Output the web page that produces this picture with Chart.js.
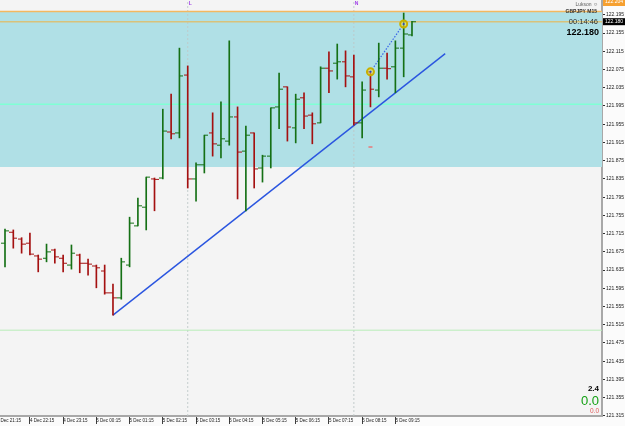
<!DOCTYPE html>
<html>
<head>
<meta charset="utf-8">
<script src="https://cdn.jsdelivr.net/npm/chart.js@4.4.1/dist/chart.umd.min.js"></script>
<style>
html, body { margin: 0; padding: 0; background: #fbfbfb; }
#wrap { width: 625px; height: 426px; }
</style>
</head>
<body>
<div id="wrap"><canvas id="chart" width="625" height="426"></canvas></div>
<script>
// GBPJPY M15, bars from 4 Dec 21:30 to 5 Dec 09:45 (index 0..49)
const opens  = [121.694, 121.718, 121.703, 121.694, 121.666, 121.661, 121.679, 121.661, 121.646, 121.668,
                121.650, 121.644, 121.633, 121.585, 121.574, 121.646, 121.732, 121.773, 121.835, 121.837,
                121.938, 121.936, 122.063, 121.835, 121.866, 121.936, 121.909, 121.918, 121.971, 121.896,
                121.936, 121.859, 121.885, 121.993, 122.037, 121.947, 122.013, 121.975, 121.958, 122.078,
                122.089, 122.092, 122.059, 121.958, 122.070, 122.030, 122.078, 122.081, 122.122, 122.151];
const highs  = [121.725, 121.723, 121.706, 121.716, 121.668, 121.692, 121.681, 121.668, 121.690, 121.670,
                121.659, 121.646, 121.646, 121.604, 121.661, 121.751, 121.793, 121.839, 121.837, 121.988,
                122.021, 122.122, 122.083, 121.870, 121.931, 121.980, 122.004, 122.138, 121.993, 121.951,
                121.936, 121.887, 121.991, 122.067, 122.037, 122.021, 122.024, 121.980, 122.081, 122.114,
                122.131, 122.116, 122.107, 122.048, 122.070, 122.133, 122.111, 122.138, 122.199, 122.181];
const lows   = [121.642, 121.683, 121.672, 121.668, 121.631, 121.653, 121.650, 121.631, 121.637, 121.629,
                121.624, 121.596, 121.582, 121.536, 121.571, 121.642, 121.732, 121.723, 121.765, 121.835,
                121.923, 121.925, 121.815, 121.786, 121.848, 121.885, 121.881, 121.909, 121.791, 121.765,
                121.815, 121.828, 121.859, 121.945, 121.918, 121.914, 121.945, 121.912, 121.958, 122.024,
                122.054, 122.037, 121.953, 121.925, 121.993, 122.015, 122.054, 122.024, 122.059, 122.149];
const closes = [121.721, 121.705, 121.692, 121.670, 121.659, 121.675, 121.664, 121.650, 121.672, 121.650,
                121.648, 121.640, 121.585, 121.574, 121.653, 121.738, 121.776, 121.839, 121.834, 121.940,
                121.934, 122.061, 121.835, 121.866, 121.931, 121.912, 121.923, 121.971, 121.894, 121.931,
                121.857, 121.885, 121.991, 122.032, 121.949, 122.010, 121.973, 121.956, 122.078, 122.072,
                122.092, 122.061, 121.958, 122.030, 122.032, 122.078, 122.077, 122.122, 122.153, 122.180];

const xTickIdx = [-1, 3, 7, 11, 15, 19, 23, 27, 31, 35, 39, 43, 47];
const xTickLabels = ['4 Dec 21:15', '4 Dec 22:15', '4 Dec 23:15', '5 Dec 00:15', '5 Dec 01:15', '5 Dec 02:15',
                     '5 Dec 03:15', '5 Dec 04:15', '5 Dec 05:15', '5 Dec 06:15', '5 Dec 07:15', '5 Dec 08:15', '5 Dec 09:15'];
const yTicks = [121.315, 121.355, 121.395, 121.435, 121.475, 121.515, 121.555, 121.595, 121.635, 121.675,
                121.715, 121.755, 121.795, 121.835, 121.875, 121.915, 121.955, 121.995, 122.035, 122.075,
                122.115, 122.155, 122.195];

// objects on the chart
const zoneTop = 122.2024, zoneBottom = 121.861;
const askLevel = 122.2024, bidLevel = 122.180;
const aquaLevel = 121.999, greenLevel = 121.503;
const eventIdx = [22, 42];
const eventLabels = ['L', 'N'];
const trendX = [13, 53], trendY = [121.536, 122.110];
const tradeX = [44, 48], tradeY = [122.070, 122.175];
const pendingX = [44], pendingY = [121.905];

const xMin = -0.602, xMax = 71.876;
const yMin = 121.3147, yMax = 122.2276;

const upColor = '#157015', downColor = '#a41010';
const barIdx = opens.map((_, i) => i);
const isUp = i => closes[i] >= opens[i];

function makeTick(color, side) {
    const c = document.createElement('canvas');
    c.width = 8; c.height = 3;
    const g = c.getContext('2d');
    g.fillStyle = color;
    g.fillRect(side === 'left' ? 0 : 4, 1, 4, 1);
    return c;
}
const tickUpL = makeTick(upColor, 'left'), tickUpR = makeTick(upColor, 'right');
const tickDnL = makeTick(downColor, 'left'), tickDnR = makeTick(downColor, 'right');

const hLine = (v, color, width, order) => ({
    type: 'line', data: [{ x: xMin, y: v }, { x: xMax, y: v }],
    borderColor: color, borderWidth: width, pointRadius: 0, order: order
});

const datasets = [
    {
        type: 'line', data: [{ x: xMin, y: zoneTop }, { x: xMax, y: zoneTop }],
        borderWidth: 0, pointRadius: 0, fill: { value: zoneBottom },
        backgroundColor: '#b0e0e6', order: 100
    },
    ...eventIdx.map(i => ({
        type: 'line', data: [{ x: i, y: yMin }, { x: i, y: yMax }],
        borderColor: 'rgba(190,200,200,0.9)', borderWidth: 1, borderDash: [2, 2], pointRadius: 0, order: 90
    })),
    hLine(aquaLevel, '#7fffd4', 1.5, 80),
    hLine(greenLevel, '#b8ecb8', 1, 80),
    hLine(askLevel, '#f4b860', 1.5, 80),
    hLine(bidLevel, '#d9c27a', 1.5, 80),
    {
        type: 'line', data: trendX.map((x, k) => ({ x: x, y: trendY[k] })),
        borderColor: '#2a55e0', borderWidth: 1.4, pointRadius: 0, order: 50
    },
    {
        type: 'line', data: tradeX.map((x, k) => ({ x: x, y: tradeY[k] })),
        borderColor: '#3a66e8', borderWidth: 1.2, borderDash: [1.5, 1.5], pointRadius: 0, order: 50
    },
    {
        type: 'bar', data: barIdx.map(i => ({ x: i, y: [lows[i], highs[i]] })),
        backgroundColor: barIdx.map(i => isUp(i) ? upColor : downColor),
        barThickness: 1, grouped: false, order: 10
    },
    {
        type: 'scatter', data: barIdx.map(i => ({ x: i, y: opens[i] })),
        pointStyle: ctx => isUp(ctx.dataIndex) ? tickUpL : tickDnL, pointRadius: 3, order: 5
    },
    {
        type: 'scatter', data: barIdx.map(i => ({ x: i, y: closes[i] })),
        pointStyle: ctx => isUp(ctx.dataIndex) ? tickUpR : tickDnR, pointRadius: 3, order: 5
    },
    {
        type: 'scatter', data: pendingX.map((x, k) => ({ x: x, y: pendingY[k] })),
        pointStyle: 'line', pointRadius: 2, borderColor: '#e87878', borderWidth: 1.5, order: 4
    },
    {
        type: 'scatter', data: tradeX.map((x, k) => ({ x: x, y: tradeY[k] })),
        pointStyle: 'circle', pointRadius: 3.5, borderColor: '#c9b000', borderWidth: 2,
        backgroundColor: 'rgba(235,215,90,0.55)', order: 2
    },
    {
        type: 'scatter', data: tradeX.map((x, k) => ({ x: x, y: tradeY[k] })),
        pointStyle: 'circle', pointRadius: 1, borderWidth: 0, backgroundColor: '#2040d0', order: 1
    }
];

// background + overlay texts
const chartDecor = {
    id: 'chartDecor',
    beforeDraw(chart) {
        const { ctx, chartArea: a } = chart;
        ctx.save();
        ctx.fillStyle = '#fbfbfb';
        ctx.fillRect(0, 0, chart.width, chart.height);
        ctx.fillStyle = '#f4f4f4';
        ctx.fillRect(a.left, a.top, a.right - a.left, a.bottom - a.top);
        ctx.restore();
    },
    afterDraw(chart) {
        const { ctx } = chart;
        const x = chart.scales.x, y = chart.scales.y;
        ctx.save();
        // event letters at the top
        ctx.font = 'bold 5px "Liberation Sans", Arial, sans-serif';
        ctx.fillStyle = '#a040e8';
        ctx.textBaseline = 'middle';
        ctx.textAlign = 'left';
        eventIdx.forEach((i, k) => ctx.fillText(eventLabels[k], x.getPixelForValue(i) + 1, 4));

        // info block top right
        ctx.textAlign = 'right';
        ctx.fillStyle = '#606060';
        ctx.font = '5px "Liberation Sans", Arial, sans-serif';
        ctx.fillText('Lukson \u263A', 598, 5);
        ctx.fillStyle = '#303030';
        ctx.font = 'bold 5px "Liberation Sans", Arial, sans-serif';
        ctx.fillText('GBPJPY M15', 597, 12);
        ctx.font = '7.5px "Liberation Sans", Arial, sans-serif';
        ctx.fillText('00:14:46', 598, 21.5);
        ctx.fillStyle = '#000';
        ctx.font = 'bold 9px "Liberation Sans", Arial, sans-serif';
        ctx.fillText('122.180', 599, 33);

        // info block bottom right
        ctx.fillStyle = '#000';
        ctx.font = 'bold 8px "Liberation Sans", Arial, sans-serif';
        ctx.fillText('2.4', 599, 389);
        ctx.fillStyle = '#14a014';
        ctx.font = '13px "Liberation Sans", Arial, sans-serif';
        ctx.fillText('0.0', 599, 401);
        ctx.fillStyle = '#e05a5a';
        ctx.font = '6.5px "Liberation Sans", Arial, sans-serif';
        ctx.fillText('0.0', 599, 411);

        // price labels on the axis
        const ax = y.left + 1;
        ctx.textAlign = 'left';
        ctx.font = '5px "Liberation Sans", Arial, sans-serif';
        ctx.fillStyle = '#f6a030';
        ctx.fillRect(ax, -2, chart.width - ax, 8);
        ctx.fillStyle = '#fff';
        ctx.fillText('122.204', ax + 2, 2);
        const by = y.getPixelForValue(bidLevel);
        ctx.fillStyle = '#000';
        ctx.fillRect(ax, by - 3.5, chart.width - ax, 7);
        ctx.fillStyle = '#fff';
        ctx.fillText(bidLevel.toFixed(3), ax + 2, by);
        ctx.restore();
    }
};

new Chart(document.getElementById('chart'), {
    type: 'line',
    data: { datasets: datasets },
    options: {
        responsive: false,
        animation: false,
        devicePixelRatio: 1,
        events: [],
        layout: { padding: 0, autoPadding: false },
        plugins: { legend: { display: false }, tooltip: { enabled: false } },
        scales: {
            x: {
                type: 'linear', position: 'bottom', min: xMin, max: xMax, offset: false,
                afterBuildTicks: s => { s.ticks = xTickIdx.map(v => ({ value: v })); },
                afterFit: s => { s.height = 10; s.paddingLeft = 0; s.paddingRight = 0; },
                grid: { drawOnChartArea: false, drawTicks: true, tickLength: 8, color: '#404040', lineWidth: 1, offset: false },
                border: { display: true, color: '#a8a8a8', width: 2 },
                ticks: {
                    autoSkip: false, maxRotation: 0, minRotation: 0, align: 'start', padding: -6,
                    color: '#202020', font: { size: 4.5, family: '"Liberation Sans", Arial, sans-serif' },
                    callback: v => xTickLabels[xTickIdx.indexOf(v)]
                }
            },
            y: {
                type: 'linear', position: 'right', min: yMin, max: yMax, offset: false,
                afterBuildTicks: s => { s.ticks = yTicks.map(v => ({ value: v })); },
                afterFit: s => { s.width = 23; s.paddingTop = 0; s.paddingBottom = 0; },
                grid: { drawOnChartArea: false, drawTicks: true, tickLength: 3, color: '#303030', lineWidth: 1 },
                border: { display: true, color: '#a8a8a8', width: 2 },
                ticks: {
                    autoSkip: false, padding: 1, color: '#202020',
                    font: { size: 5, family: '"Liberation Sans", Arial, sans-serif' },
                    callback: v => v.toFixed(3)
                }
            }
        }
    },
    plugins: [chartDecor]
});
</script>
</body>
</html>
